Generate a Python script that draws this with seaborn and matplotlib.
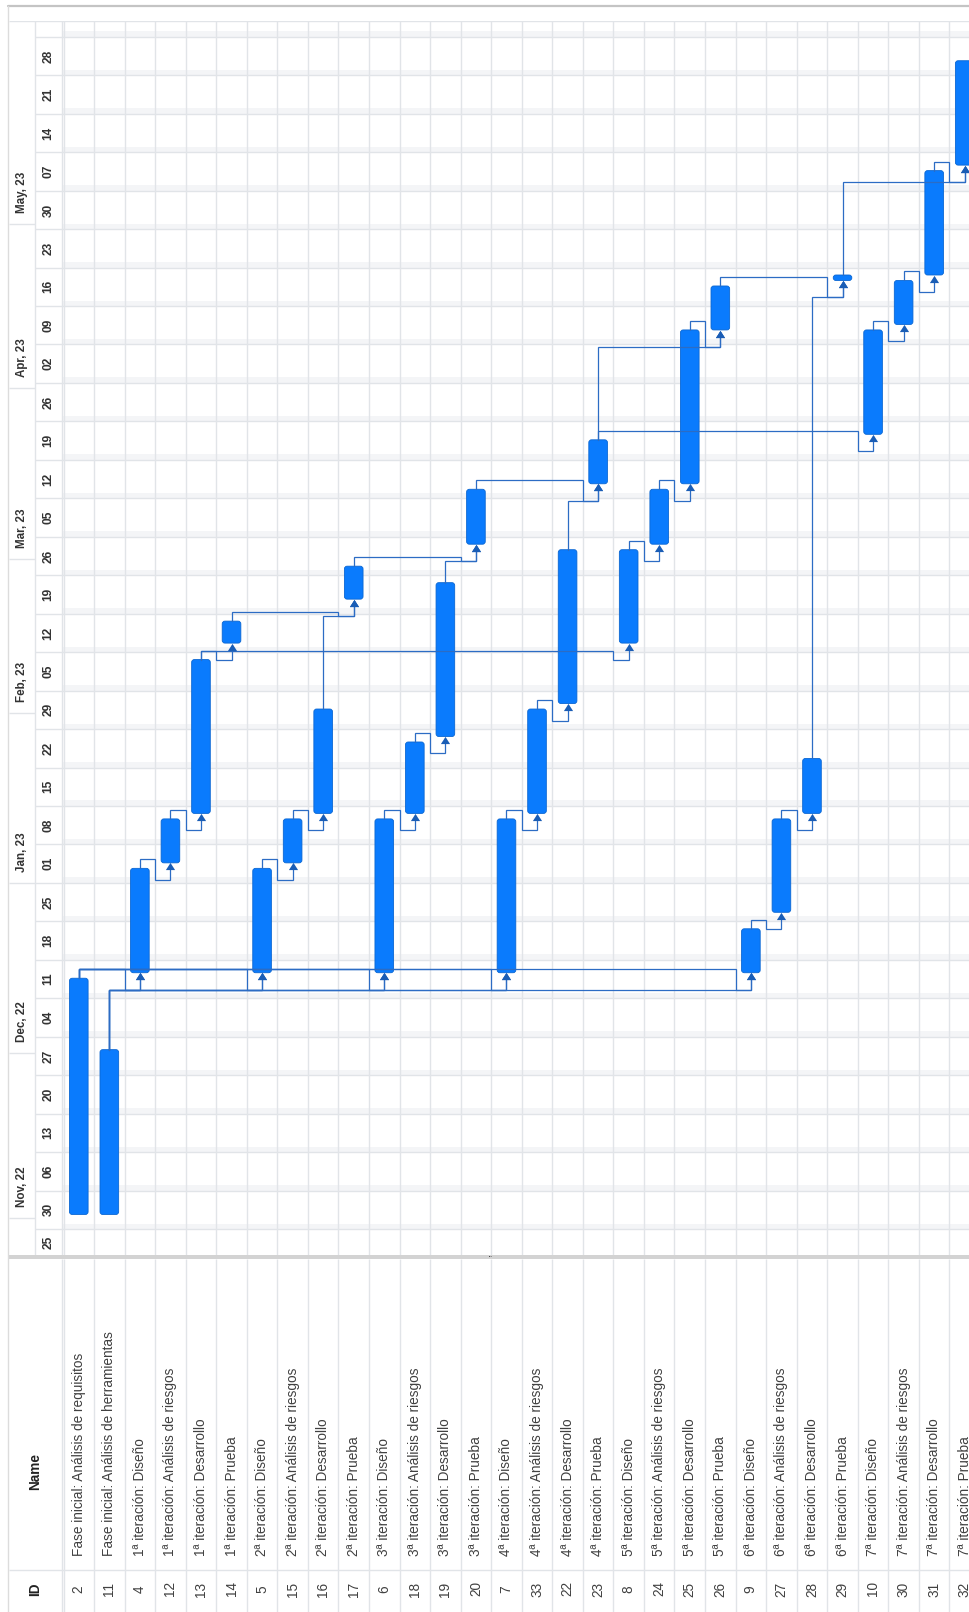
import numpy as np
import pandas as pd
import matplotlib
matplotlib.use("Agg")
import matplotlib.pyplot as plt
from matplotlib.patches import FancyBboxPatch, Rectangle
from matplotlib.lines import Line2D
import seaborn as sns

# ---------------- data ----------------
timeline_start = "2022-10-25"
timeline_end = "2023-06-07"

task_ids = [2, 11, 4, 12, 13, 14, 5, 15, 16, 17, 6, 18, 19, 20, 7, 33, 22, 23,
            8, 24, 25, 26, 9, 27, 28, 29, 10, 30, 31, 32]
task_names = [
    "Fase inicial: Análisis de requisitos",
    "Fase inicial: Análisis de herramientas",
    "1ª iteración: Diseño", "1ª iteración: Análisis de riesgos",
    "1ª iteración: Desarrollo", "1ª iteración: Prueba",
    "2ª iteración: Diseño", "2ª iteración: Análisis de riesgos",
    "2ª iteración: Desarrollo", "2ª iteración: Prueba",
    "3ª iteración: Diseño", "3ª iteración: Análisis de riesgos",
    "3ª iteración: Desarrollo", "3ª iteración: Prueba",
    "4ª iteración: Diseño", "4ª iteración: Análisis de riesgos",
    "4ª iteración: Desarrollo", "4ª iteración: Prueba",
    "5ª iteración: Diseño", "5ª iteración: Análisis de riesgos",
    "5ª iteración: Desarrollo", "5ª iteración: Prueba",
    "6ª iteración: Diseño", "6ª iteración: Análisis de riesgos",
    "6ª iteración: Desarrollo", "6ª iteración: Prueba",
    "7ª iteración: Diseño", "7ª iteración: Análisis de riesgos",
    "7ª iteración: Desarrollo", "7ª iteración: Prueba",
]
task_start = ["2022-11-01", "2022-11-01", "2022-12-15", "2023-01-04", "2023-01-13", "2023-02-13",
              "2022-12-15", "2023-01-04", "2023-01-13", "2023-02-21",
              "2022-12-15", "2023-01-13", "2023-01-27", "2023-03-03",
              "2022-12-15", "2023-01-13", "2023-02-02", "2023-03-14",
              "2023-02-13", "2023-03-03", "2023-03-14", "2023-04-11",
              "2022-12-15", "2022-12-26", "2023-01-13", "2023-04-20",
              "2023-03-23", "2023-04-12", "2023-04-21", "2023-05-11"]
task_end = ["2022-12-14", "2022-12-01", "2023-01-03", "2023-01-12", "2023-02-10", "2023-02-17",
            "2023-01-03", "2023-01-12", "2023-02-01", "2023-02-27",
            "2023-01-12", "2023-01-26", "2023-02-24", "2023-03-13",
            "2023-01-12", "2023-02-01", "2023-03-02", "2023-03-22",
            "2023-03-02", "2023-03-13", "2023-04-11", "2023-04-19",
            "2022-12-23", "2023-01-12", "2023-01-23", "2023-04-21",
            "2023-04-11", "2023-04-20", "2023-05-10", "2023-05-30"]

link_from = [2, 2, 2, 2, 2, 11, 11, 11, 11, 11, 4, 12, 13, 13, 5, 15, 14, 16,
             6, 18, 17, 19, 7, 33, 20, 22, 23, 23, 8, 24, 25, 9, 27, 26, 28,
             10, 30, 31, 29]
link_to = [4, 5, 6, 7, 9, 4, 5, 6, 7, 9, 12, 13, 14, 8, 15, 16, 17, 17,
           18, 19, 20, 20, 33, 22, 23, 23, 10, 26, 24, 25, 26, 27, 28, 29, 29,
           30, 31, 32, 32]

week_labels = ["25", "30", "06", "13", "20", "27", "04", "11", "18", "25", "01", "08",
               "15", "22", "29", "05", "12", "19", "26", "05", "12", "19", "26", "02",
               "09", "16", "23", "30", "07", "14", "21", "28"]
month_labels = ["Nov, 22", "Dec, 22", "Jan, 23", "Feb, 23", "Mar, 23", "Apr, 23", "May, 23"]
month_starts = ["2022-11-01", "2022-12-01", "2023-01-01", "2023-02-01",
                "2023-03-01", "2023-04-01", "2023-05-01"]

# ---------------- layout ----------------
W, H, DPI = 970, 1612, 100
X_LEFT, PITCH = 63.5, 30.55          # px of first row boundary, px per row
Y0, TOP, PPD = 1256.5, 21.0, 5.494   # px of day 0, px of top, px per day
SHIFT = 0.65                         # bar offset inside a day
SPLIT = 1259.0

BAR = "#0a7bfd"
BAR_EDGE = "#0a66d2"
LINK = "#2c6cc4"
ARROW = "#1a5db5"
GRID = "#e1e4e8"
BAND = "#f4f5f7"
TXT = "#404040"

sns.set_style("white")
plt.rcParams["font.family"] = ["Liberation Sans", "DejaVu Sans"]

origin = pd.Timestamp(timeline_start)
to_day = lambda s: (pd.to_datetime(s) - origin).days
starts = np.array([to_day(s) for s in task_start], float)
ends = np.array([to_day(s) for s in task_end], float)
n = len(task_ids)
idx = {tid: i for i, tid in enumerate(task_ids)}

def px2x(px):
    return (px - X_LEFT) / PITCH - 0.5

fig = plt.figure(figsize=(W / DPI, H / DPI), dpi=DPI)
fig.patch.set_facecolor("white")

ax = fig.add_axes([9 / W, 1 - Y0 / H, (W - 9) / W, (Y0 - TOP) / H])
xmin, xmax = px2x(9), px2x(W)
ymax = (Y0 - TOP) / PPD

x_month_r = px2x(35)
x_week_r = px2x(62)

# week slots
sundays = pd.date_range("2022-10-30", timeline_end, freq="7D")
slot_starts = [0] + [(d - origin).days for d in sundays]
slot_starts = slot_starts[:len(week_labels) + 1]
slot_ends = slot_starts[1:]

for d in slot_starts[1:]:
    ax.add_patch(Rectangle((x_week_r, d), xmax - x_week_r, 1.0, facecolor=BAND,
                           edgecolor="none", zorder=0))
ax.hlines(slot_starts[1:], x_month_r, xmax, color=GRID, lw=1.0, zorder=1)
mdays = [to_day(m) for m in month_starts]
ax.hlines(mdays, xmin, x_month_r, color=GRID, lw=1.0, zorder=1)
row_bounds = [px2x(X_LEFT) + k for k in range(n + 1)]
ax.vlines(row_bounds, 0, ymax, color=GRID, lw=1.0, zorder=1)
ax.vlines([x_month_r, x_week_r], 0, ymax, color=GRID, lw=1.0, zorder=1)
ax.hlines(ymax, xmin, xmax, color=GRID, lw=1.0, zorder=1)

xw = px2x(48.5)
for lab, a, b in zip(week_labels, slot_starts, slot_ends):
    ax.text(xw, (a + b) / 2, lab, rotation=90, ha="center", va="center",
            fontsize=8.6, fontweight="bold", color="#333333")
xm = px2x(22)
for lab, d in zip(month_labels, mdays):
    ax.text(xm, d + 2.0, lab, rotation=90, ha="left", va="center",
            rotation_mode="anchor", fontsize=8.4, fontweight="bold", color="#333333")

# bars
bw = 0.61
for i in range(n):
    y0, y1 = starts[i] + SHIFT, ends[i] + SHIFT
    ax.add_patch(FancyBboxPatch((i - bw / 2, y0), bw, y1 - y0,
                                boxstyle="round,pad=0,rounding_size=0.09",
                                mutation_aspect=PITCH / PPD,
                                facecolor=BAR, edgecolor=BAR_EDGE, lw=0.6, zorder=3))

# links
GE, GS = 9 / PPD, 17 / PPD
tip_x, tip_y = [], []
for a, b in zip(link_from, link_to):
    p, q = idx[a], idx[b]
    e, s = ends[p] + SHIFT, starts[q] + SHIFT
    if s - GS >= e + GE:
        pts = [(p, e), (p, s - GS), (q, s - GS), (q, s - 0.3)]
    else:
        pts = [(p, e), (p, e + GE), (q - 0.5, e + GE), (q - 0.5, s - GS),
               (q, s - GS), (q, s - 0.3)]
    xs, ys = zip(*pts)
    ax.plot(xs, ys, color=LINK, lw=0.9, zorder=4, solid_joinstyle="miter")
    tip_x.append(q)
    tip_y.append(s - 3.6 / PPD)

tri = [(-1, -0.78), (1, -0.78), (0, 0.78), (-1, -0.78)]
sns.scatterplot(x=tip_x, y=tip_y, marker=tri, s=44, color=ARROW, linewidth=0,
                ax=ax, legend=False, zorder=5)
ax.set_xlim(xmin, xmax)
ax.set_ylim(0, ymax)
ax.axis("off")

# ---------------- table ----------------
axt = fig.add_axes([9 / W, 0, (W - 9) / W, (H - SPLIT) / H])
axt.set_xlim(xmin, xmax)
axt.set_ylim(H, SPLIT)
axt.axis("off")
axt.vlines(row_bounds + [x_week_r], SPLIT, H, color=GRID, lw=1.0)
axt.hlines(1570, xmin, xmax, color=GRID, lw=1.0)
for i in range(n):
    axt.text(i, 1556, task_names[i], rotation=90, ha="left", va="center",
             rotation_mode="anchor", fontsize=9.8, color=TXT)
    axt.text(i, 1589, str(task_ids[i]), rotation=90, ha="center", va="center",
             rotation_mode="anchor", fontsize=9.8, color=TXT)
xh = px2x(35)
axt.text(xh, 1490, "Name", rotation=90, ha="left", va="center",
         rotation_mode="anchor", fontsize=9.8, fontweight="bold", color="#222222")
axt.text(xh, 1589, "ID", rotation=90, ha="center", va="center",
         rotation_mode="anchor", fontsize=9.8, fontweight="bold", color="#222222")

# frame decorations
fig.add_artist(Line2D([8.5 / W, 1], [1 - 6 / H, 1 - 6 / H], color="#c4c4c4", lw=1.6))
fig.add_artist(Line2D([8.5 / W, 8.5 / W], [0, 1 - 6 / H], color="#dcdcdc", lw=1.0))
fig.add_artist(Rectangle((9 / W, 1 - SPLIT / H), 1 - 9 / W, 4.5 / H,
                         transform=fig.transFigure, facecolor="#d3d3d3", edgecolor="none"))
fig.text(491 / W, 1 - 1256.8 / H, "•••", fontsize=2.5, color="#444444",
         ha="center", va="center")

fig.savefig("out.png", dpi=DPI, facecolor="white")
